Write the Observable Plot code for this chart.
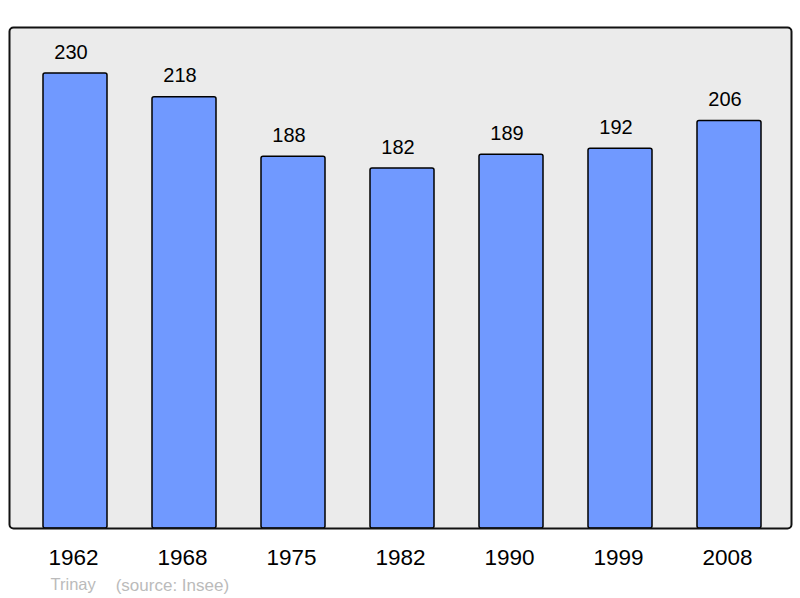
<!DOCTYPE html>
<html>
<head>
<meta charset="utf-8">
<script src="https://cdn.jsdelivr.net/npm/d3@7"></script>
<script src="https://cdn.jsdelivr.net/npm/@observablehq/plot@0.6"></script>
<style>
  html, body { margin: 0; padding: 0; background: #ffffff; }
  #chart svg { display: block; }
</style>
</head>
<body>
<div id="chart"></div>
<script>
const years = ["1962", "1968", "1975", "1982", "1990", "1999", "2008"];
const population = [230, 218, 188, 182, 189, 192, 206];
const commune = "Trinay";
const source = "(source: Insee)";

const data = years.map((y, i) => ({year: y, value: population[i]}));

const chart = Plot.plot({
  width: 800,
  height: 598,
  marginLeft: 41.7,
  marginRight: 38.3,
  marginTop: 27,
  marginBottom: 70,
  style: {fontFamily: "'Liberation Sans', Arial, sans-serif", background: "#ffffff"},
  x: {domain: years, paddingInner: 0.415, paddingOuter: 0, label: null},
  y: {domain: [0, 253.3], axis: null},
  marks: [
    Plot.frame({fill: "#ebebeb", stroke: "none", rx: 4, insetLeft: -32.7, insetRight: -29.3}),
    Plot.barY(data, {x: "year", y: "value", fill: "#7099ff", stroke: "#000000", strokeWidth: 1.5, rx: 2}),
    Plot.frame({fill: "none", stroke: "#111111", strokeWidth: 2, rx: 4, insetLeft: -32.7, insetRight: -29.3}),
    Plot.text(data, {x: "year", y: "value", text: d => String(d.value), dx: -4.5, dy: -21.4, fontSize: 20, fill: "#000000"}),
    Plot.axisX({tickSize: 0, tickPadding: 21, fontSize: 22.5, dx: -2, label: null, fill: "#000000"}),
    Plot.text([commune], {frameAnchor: "bottom-left", lineAnchor: "middle", text: d => d, textAnchor: "start", dx: 8.3, dy: 56.6, fontSize: 16.5, fill: "#bbbbbb"}),
    Plot.text([source], {frameAnchor: "bottom-left", lineAnchor: "middle", text: d => d, textAnchor: "start", dx: 73.5, dy: 56.6, fontSize: 17, fill: "#bbbbbb"})
  ]
});
document.getElementById("chart").appendChild(chart);
</script>
</body>
</html>
